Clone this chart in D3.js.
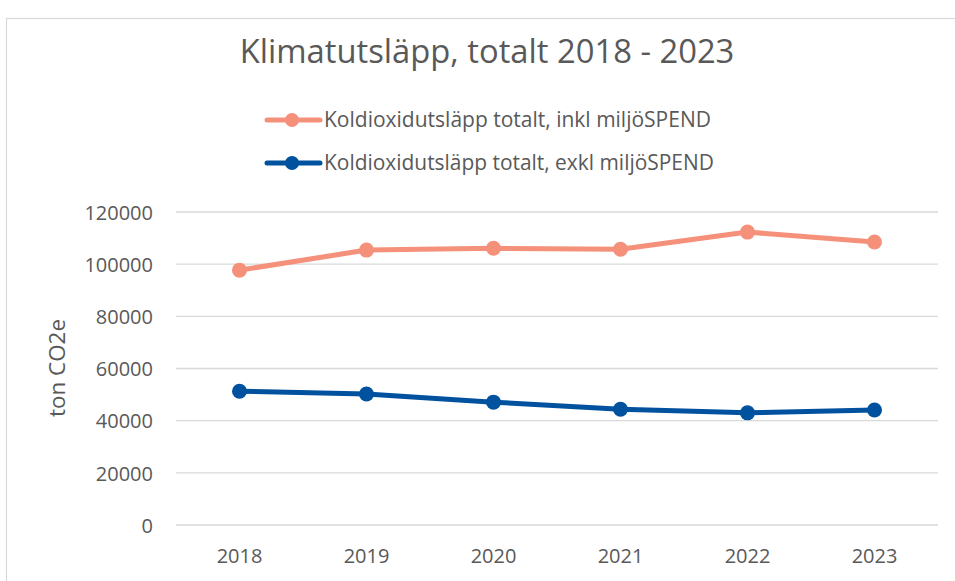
<!DOCTYPE html>
<html><head><meta charset="utf-8">
<script src="https://cdn.jsdelivr.net/npm/d3@7/dist/d3.min.js"></script>
<style>body{margin:0;background:#fff}svg{display:block}text{font-family:"Open Sans","Noto Sans",sans-serif;fill:#595959}</style>
</head><body>
<svg id="c" width="955" height="581"></svg>
<script>
const years = ["2018","2019","2020","2021","2022","2023"];
const inkl = [97700, 105400, 106100, 105700, 112300, 108500];
const exkl = [51300, 50200, 47100, 44400, 43000, 44100];
const yTicks = [0, 20000, 40000, 60000, 80000, 100000, 120000];
const seriesNames = ["Koldioxidutsläpp totalt, inkl miljöSPEND", "Koldioxidutsläpp totalt, exkl miljöSPEND"];
const colors = ["#F5917A", "#00519E"];
const title = "Klimatutsläpp, totalt 2018 - 2023";
const yLabel = "ton CO2e";

const svg = d3.select("#c");
svg.append("rect").attr("x",6.5).attr("y",18.5).attr("width",960).attr("height",600)
  .attr("fill","#fff").attr("stroke","#d9d9d9").attr("stroke-width",1.2);

const x = d3.scaleBand().domain(years).range([176, 938]);
const y = d3.scaleLinear().domain([0,120000]).range([525, 212]);

function fit(sel, w){ const n=sel.node(); const cur=n.getComputedTextLength(); const fs=parseFloat(sel.attr("font-size")); sel.attr("font-size", fs*w/cur); }

// gridlines
svg.append("g").selectAll("line").data(yTicks).join("line")
  .attr("x1",176).attr("x2",938).attr("y1",d=>y(d)).attr("y2",d=>y(d))
  .attr("stroke","#d9d9d9").attr("stroke-width",1.3);

// y axis labels
const ya = svg.append("g").attr("transform","translate(153,0)")
  .call(d3.axisLeft(y).tickValues(yTicks).tickSize(0).tickPadding(0).tickFormat(d=>String(d)));
ya.select(".domain").remove();
ya.selectAll("text").attr("font-size",20).attr("fill","#595959").attr("font-family",'"Open Sans",sans-serif').attr("dy","0.36em");

// x axis labels
const xa = svg.append("g").attr("transform","translate(0,525)")
  .call(d3.axisBottom(x).tickSize(0).tickPadding(24));
xa.select(".domain").remove();
xa.selectAll("text").attr("font-size",20).attr("fill","#595959").attr("font-family",'"Open Sans",sans-serif');

// y title
const yt = svg.append("text").attr("transform","translate(65,368) rotate(-90)").attr("text-anchor","middle")
  .attr("font-size",20).text(yLabel);
fit(yt, 98);

// title
const t = svg.append("text").attr("x",487).attr("y",63).attr("text-anchor","middle").attr("font-size",28).text(title);
fit(t, 495);

// lines
const line = d3.line().x((d,i)=>x(years[i])+x.bandwidth()/2).y(d=>y(d));
[inkl, exkl].forEach((s,k)=>{
  svg.append("path").datum(s).attr("d",line).attr("fill","none").attr("stroke",colors[k])
    .attr("stroke-width",5).attr("stroke-linejoin","round").attr("stroke-linecap","round");
  svg.append("g").selectAll("circle").data(s).join("circle")
    .attr("cx",(d,i)=>x(years[i])+x.bandwidth()/2).attr("cy",d=>y(d)).attr("r",7.5).attr("fill",colors[k]);
});

// legend
const ly = [120, 163];
seriesNames.forEach((n,k)=>{
  const g = svg.append("g");
  g.append("line").attr("x1",267).attr("x2",320).attr("y1",ly[k]).attr("y2",ly[k])
    .attr("stroke",colors[k]).attr("stroke-width",5).attr("stroke-linecap","round");
  g.append("circle").attr("cx",292).attr("cy",ly[k]).attr("r",7).attr("fill",colors[k]);
  const tt = g.append("text").attr("x",324).attr("y",ly[k]).attr("dy","0.35em").attr("font-size",17).text(n);
  fit(tt, k===0 ? 387 : 390);
});
</script>
</body></html>
